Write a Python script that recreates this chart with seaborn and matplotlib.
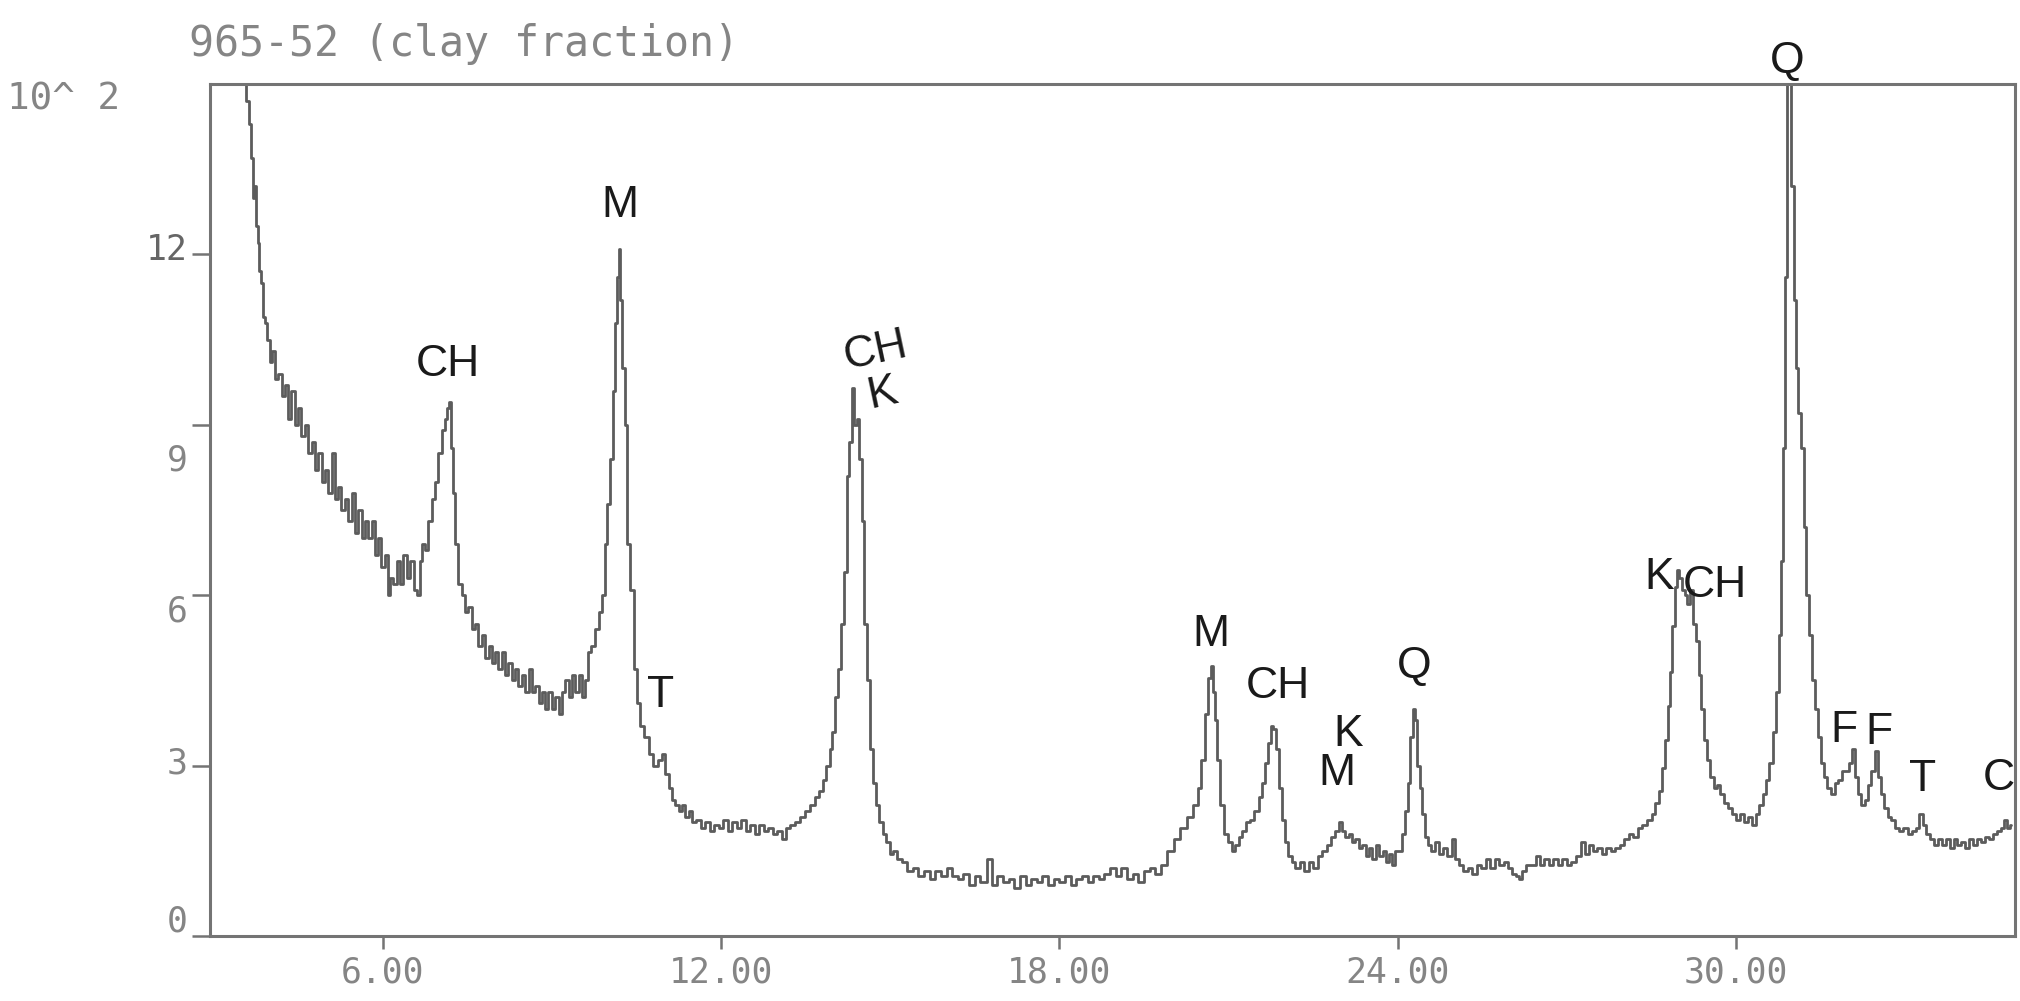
import numpy as np
import pandas as pd
import matplotlib
matplotlib.use("Agg")
import matplotlib.pyplot as plt
import matplotlib.transforms as mtransforms
import seaborn as sns

# ---------------- data (2-theta in degrees, counts x 10^2) ----------------
two_theta = [
    3.55, 3.60, 3.65, 3.68, 3.71, 3.74, 3.77, 3.80, 3.83, 3.86, 3.89, 3.93, 3.98, 4.02, 4.06, 4.12,
    4.18, 4.24, 4.30, 4.35, 4.41, 4.47, 4.53, 4.59, 4.65, 4.71, 4.77, 4.83, 4.89, 4.95, 5.01, 5.07,
    5.13, 5.18, 5.24, 5.30, 5.36, 5.42, 5.48, 5.54, 5.60, 5.66, 5.72, 5.78, 5.84, 5.90, 5.95, 6.01,
    6.07, 6.12, 6.16, 6.22, 6.28, 6.34, 6.40, 6.46, 6.52, 6.58, 6.64, 6.68, 6.72, 6.78, 6.84, 6.90,
    6.96, 7.02, 7.08, 7.13, 7.17, 7.20, 7.23, 7.26, 7.31, 7.37, 7.43, 7.49, 7.55, 7.61, 7.67, 7.73,
    7.79, 7.85, 7.91, 7.97, 8.03, 8.08, 8.14, 8.20, 8.26, 8.32, 8.38, 8.44, 8.50, 8.56, 8.62, 8.68,
    8.74, 8.79, 8.85, 8.91, 8.97, 9.03, 9.09, 9.15, 9.21, 9.27, 9.33, 9.39, 9.45, 9.50, 9.56, 9.62,
    9.66, 9.72, 9.80, 9.86, 9.92, 9.95, 10.00, 10.06, 10.10, 10.14, 10.17, 10.20, 10.23, 10.27, 10.31, 10.36,
    10.42, 10.48, 10.54, 10.60, 10.68, 10.76, 10.84, 10.92, 10.98, 11.04, 11.10, 11.16, 11.22, 11.28, 11.34, 11.40,
    11.46, 11.52, 11.60, 11.68, 11.76, 11.84, 11.92, 12.00, 12.08, 12.16, 12.24, 12.32, 12.40, 12.48, 12.56, 12.64,
    12.72, 12.80, 12.88, 12.96, 13.04, 13.12, 13.18, 13.26, 13.35, 13.44, 13.53, 13.62, 13.71, 13.78, 13.84, 13.90,
    13.95, 13.99, 14.04, 14.10, 14.16, 14.21, 14.25, 14.30, 14.34, 14.38, 14.43, 14.48, 14.52, 14.57, 14.62, 14.67,
    14.72, 14.78, 14.84, 14.90, 14.96, 15.02, 15.08, 15.16, 15.26, 15.35, 15.45, 15.55, 15.65, 15.75, 15.85, 15.95,
    16.05, 16.15, 16.25, 16.35, 16.45, 16.55, 16.65, 16.77, 16.85, 16.95, 17.05, 17.15, 17.25, 17.35, 17.45, 17.55,
    17.65, 17.75, 17.85, 17.95, 18.05, 18.15, 18.25, 18.35, 18.45, 18.55, 18.65, 18.75, 18.85, 18.95, 19.05, 19.15,
    19.25, 19.35, 19.45, 19.55, 19.65, 19.75, 19.85, 19.97, 20.08, 20.20, 20.32, 20.43, 20.49, 20.55, 20.61, 20.67,
    20.70, 20.74, 20.78, 20.82, 20.88, 20.95, 21.02, 21.09, 21.15, 21.21, 21.28, 21.35, 21.42, 21.50, 21.57, 21.62,
    21.68, 21.72, 21.77, 21.82, 21.87, 21.92, 21.97, 22.03, 22.09, 22.15, 22.22, 22.30, 22.38, 22.46, 22.54, 22.62,
    22.70, 22.78, 22.86, 22.92, 22.98, 23.04, 23.10, 23.16, 23.22, 23.28, 23.34, 23.40, 23.46, 23.52, 23.58, 23.64,
    23.70, 23.76, 23.82, 23.88, 23.93, 23.99, 24.05, 24.10, 24.16, 24.20, 24.25, 24.29, 24.33, 24.37, 24.41, 24.45,
    24.50, 24.56, 24.63, 24.70, 24.77, 24.84, 24.92, 24.99, 25.05, 25.12, 25.20, 25.28, 25.36, 25.44, 25.52, 25.60,
    25.68, 25.76, 25.84, 25.92, 25.99, 26.06, 26.12, 26.17, 26.24, 26.32, 26.41, 26.48, 26.56, 26.64, 26.72, 26.80,
    26.88, 26.96, 27.04, 27.12, 27.20, 27.29, 27.36, 27.42, 27.50, 27.58, 27.66, 27.74, 27.82, 27.90, 27.98, 28.06,
    28.14, 28.22, 28.30, 28.38, 28.47, 28.54, 28.60, 28.66, 28.72, 28.77, 28.81, 28.85, 28.89, 28.93, 28.97, 29.01,
    29.06, 29.11, 29.16, 29.21, 29.26, 29.31, 29.36, 29.41, 29.46, 29.51, 29.57, 29.63, 29.69, 29.75, 29.82, 29.89,
    29.96, 30.03, 30.10, 30.17, 30.24, 30.31, 30.38, 30.44, 30.50, 30.56, 30.62, 30.68, 30.73, 30.78, 30.82, 30.86,
    30.89, 30.92, 30.96, 31.00, 31.04, 31.08, 31.12, 31.17, 31.22, 31.27, 31.32, 31.37, 31.42, 31.47, 31.53, 31.59,
    31.65, 31.71, 31.78, 31.85, 31.92, 31.98, 32.04, 32.08, 32.13, 32.19, 32.25, 32.31, 32.37, 32.43, 32.49, 32.55,
    32.60, 32.66, 32.72, 32.79, 32.86, 32.93, 33.00, 33.08, 33.15, 33.22, 33.28, 33.33, 33.40, 33.47, 33.54, 33.61,
    33.68, 33.75, 33.82, 33.89, 33.96, 34.03, 34.10, 34.17, 34.24, 34.31, 34.38, 34.45, 34.52, 34.59, 34.66, 34.72,
    34.77, 34.83, 34.88,
]

intensity = [
    15.2, 14.7, 14.3, 13.7, 13.0, 13.2, 12.5, 12.2, 11.7, 11.5, 10.9, 10.8, 10.5, 10.1, 10.3, 9.8,
    9.9, 9.5, 9.7, 9.1, 9.6, 9.0, 9.3, 8.8, 9.0, 8.5, 8.7, 8.2, 8.5, 8.0, 8.2, 7.8,
    8.5, 7.7, 7.9, 7.5, 7.7, 7.3, 7.8, 7.1, 7.5, 7.0, 7.3, 7.0, 7.3, 6.7, 7.0, 6.5,
    6.7, 6.0, 6.3, 6.2, 6.6, 6.2, 6.7, 6.3, 6.6, 6.1, 6.0, 6.6, 6.9, 6.8, 7.3, 7.7,
    8.0, 8.5, 8.9, 9.1, 9.3, 9.4, 8.6, 7.8, 6.9, 6.2, 6.0, 5.7, 5.8, 5.4, 5.5, 5.1,
    5.3, 4.9, 5.1, 4.8, 5.0, 4.7, 5.0, 4.6, 4.8, 4.5, 4.7, 4.4, 4.6, 4.3, 4.7, 4.3,
    4.4, 4.1, 4.3, 4.0, 4.3, 4.0, 4.2, 3.9, 4.3, 4.5, 4.2, 4.6, 4.3, 4.6, 4.2, 4.5,
    5.0, 5.1, 5.4, 5.7, 6.0, 6.9, 7.6, 8.4, 9.6, 10.8, 11.6, 12.1, 11.2, 10.0, 9.0, 6.9,
    6.1, 4.7, 4.1, 3.7, 3.5, 3.2, 3.0, 3.1, 3.2, 2.85, 2.6, 2.4, 2.3, 2.2, 2.3, 2.1,
    2.2, 2.0, 2.05, 1.9, 2.0, 1.85, 1.95, 1.9, 2.05, 1.85, 2.0, 1.9, 2.05, 1.85, 1.95, 1.8,
    1.95, 1.85, 1.9, 1.8, 1.85, 1.7, 1.9, 1.95, 2.0, 2.1, 2.2, 2.3, 2.45, 2.55, 2.75, 3.0,
    3.3, 3.6, 4.2, 4.7, 5.5, 6.4, 8.1, 8.7, 9.65, 9.0, 9.1, 8.4, 7.3, 5.5, 4.5, 3.3,
    2.7, 2.3, 2.0, 1.8, 1.65, 1.45, 1.5, 1.35, 1.3, 1.15, 1.2, 1.05, 1.15, 1.0, 1.15, 1.05,
    1.2, 1.05, 1.0, 1.1, 0.9, 1.05, 0.95, 1.35, 0.9, 1.05, 0.95, 1.0, 0.85, 1.05, 0.9, 1.0,
    0.95, 1.05, 0.9, 1.0, 0.95, 1.05, 0.9, 1.0, 1.05, 0.95, 1.05, 1.0, 1.1, 1.2, 1.05, 1.2,
    1.0, 1.1, 0.95, 1.15, 1.2, 1.1, 1.25, 1.5, 1.7, 1.9, 2.1, 2.3, 2.6, 3.1, 3.9, 4.55,
    4.75, 4.3, 3.8, 3.1, 2.3, 1.8, 1.65, 1.5, 1.6, 1.75, 1.85, 2.0, 2.05, 2.2, 2.45, 2.7,
    3.05, 3.4, 3.7, 3.65, 3.3, 2.6, 2.05, 1.65, 1.4, 1.3, 1.2, 1.3, 1.15, 1.3, 1.2, 1.4,
    1.5, 1.6, 1.75, 1.85, 2.0, 1.85, 1.75, 1.8, 1.65, 1.7, 1.55, 1.6, 1.4, 1.55, 1.35, 1.6,
    1.4, 1.5, 1.3, 1.45, 1.25, 1.5, 1.5, 1.8, 2.2, 2.7, 3.5, 4.0, 3.8, 3.0, 2.6, 2.15,
    1.75, 1.6, 1.5, 1.65, 1.45, 1.55, 1.4, 1.7, 1.35, 1.25, 1.15, 1.2, 1.1, 1.25, 1.2, 1.35,
    1.2, 1.35, 1.25, 1.3, 1.2, 1.1, 1.05, 1.0, 1.15, 1.25, 1.25, 1.4, 1.25, 1.35, 1.25, 1.35,
    1.25, 1.35, 1.25, 1.3, 1.4, 1.65, 1.45, 1.6, 1.5, 1.55, 1.45, 1.55, 1.5, 1.55, 1.6, 1.7,
    1.8, 1.75, 1.9, 1.95, 2.05, 2.15, 2.35, 2.55, 2.95, 3.45, 4.05, 4.65, 5.45, 6.15, 6.45, 6.3,
    6.1, 6.0, 5.85, 6.1, 5.5, 5.2, 4.6, 4.0, 3.45, 3.1, 2.8, 2.6, 2.65, 2.5, 2.35, 2.25,
    2.15, 2.05, 2.15, 2.0, 2.1, 1.95, 2.15, 2.3, 2.5, 2.75, 3.05, 3.6, 4.3, 5.3, 6.6, 8.6,
    11.6, 15.2, 15.2, 13.2, 11.2, 10.0, 9.2, 8.6, 7.2, 6.0, 5.3, 4.5, 4.0, 3.5, 3.05, 2.8,
    2.6, 2.5, 2.7, 2.75, 2.9, 2.9, 3.05, 3.3, 2.8, 2.5, 2.3, 2.4, 2.65, 2.9, 3.25, 2.8,
    2.5, 2.25, 2.1, 2.05, 1.9, 1.85, 1.9, 1.8, 1.85, 1.9, 2.15, 1.95, 1.8, 1.7, 1.6, 1.7,
    1.6, 1.7, 1.55, 1.7, 1.6, 1.65, 1.55, 1.7, 1.6, 1.7, 1.65, 1.75, 1.7, 1.8, 1.85, 1.9,
    2.05, 1.9, 1.95,
]

x_ticks = [6, 12, 18, 24, 30]
x_tick_labels = ["6.00", "12.00", "18.00", "24.00", "30.00"]
y_ticks = [0, 3, 6, 9, 12]
y_tick_labels = ["0", "3", "6", "9", "12"]

peak_labels = ["CH", "M", "T", "CH", "K", "M", "CH", "K", "M", "Q", "K", "CH", "Q", "F", "F", "T", "C"]
peak_label_x = [7.16, 10.20, 10.93, 14.74, 14.86, 20.68, 21.87, 23.12, 22.92, 24.29, 28.63, 29.63, 30.91, 31.91, 32.53, 33.31, 34.65]
peak_label_y = [10.07, 12.86, 4.24, 10.30, 9.55, 5.30, 4.40, 3.54, 2.86, 4.74, 6.32, 6.17, 15.40, 3.62, 3.58, 2.76, 2.78]
peak_label_rot = [0, 0, 0, 12, 12, 0, 0, 0, 0, 0, 0, 0, 0, 0, 0, 0, 0]

title_text = "965-52 (clay fraction)"
y_unit_text = "10^ 2"

# ---------------- plotting ----------------
sns.set_theme(style="white")
plt.rcParams["font.family"] = ["DejaVu Sans Mono", "DejaVu Sans"]

W, H, DPI = 2020, 1001, 100
fig = plt.figure(figsize=(W / DPI, H / DPI), dpi=DPI)
ax = fig.add_axes([210 / W, 1 - 936 / H, (2015 - 210) / W, (936 - 84) / H])

df = pd.DataFrame({"two_theta": two_theta, "intensity": intensity})
sns.lineplot(data=df, x="two_theta", y="intensity", ax=ax, estimator=None, sort=False,
             color="#5c5c5c", linewidth=2.0, drawstyle="steps-mid")

ax.set_xlim(2.94, 34.945)
ax.set_ylim(0, 15.0)
ax.set_xlabel("")
ax.set_ylabel("")

frame_col = "#747474"
for s in ax.spines.values():
    s.set_visible(True)
    s.set_color(frame_col)
    s.set_linewidth(2.2)

ax.set_xticks(x_ticks)
ax.set_xticklabels(x_tick_labels)
ax.set_yticks(y_ticks)
ax.set_yticklabels(y_tick_labels)
ax.tick_params(axis="x", direction="out", length=9, width=1.8, color=frame_col,
               labelsize=25, labelcolor="#858585", pad=5, bottom=True)
ax.tick_params(axis="y", direction="out", length=13, width=1.8, color=frame_col,
               labelsize=25, labelcolor="#858585", pad=3, left=True)
ax.grid(False)

# per-label vertical offsets like the printed original (points)
y_offsets_pt = {"12": 6, "9": -23, "6": -9, "3": 4, "0": 13}
for lab in ax.get_yticklabels():
    dy = y_offsets_pt.get(lab.get_text(), 0)
    lab.set_transform(lab.get_transform() + mtransforms.ScaledTranslation(0, dy / 72, fig.dpi_scale_trans))
    if lab.get_text() == "12":
        lab.set_color("#666666")

for txt, px, py, rot in zip(peak_labels, peak_label_x, peak_label_y, peak_label_rot):
    ax.text(px, py, txt, ha="center", va="center", fontsize=32, rotation=rot,
            family=["Liberation Sans", "DejaVu Sans"], color="#1a1a1a", clip_on=False)

fig.text(464 / W, 1 - 44 / H, title_text, ha="center", va="center", fontsize=30,
         color="#858585", family=["DejaVu Sans Mono"])
fig.text(64 / W, 1 - 100 / H, y_unit_text, ha="center", va="center", fontsize=27,
         color="#858585", family=["DejaVu Sans Mono"])

fig.savefig("out.png", dpi=DPI, facecolor="white")
